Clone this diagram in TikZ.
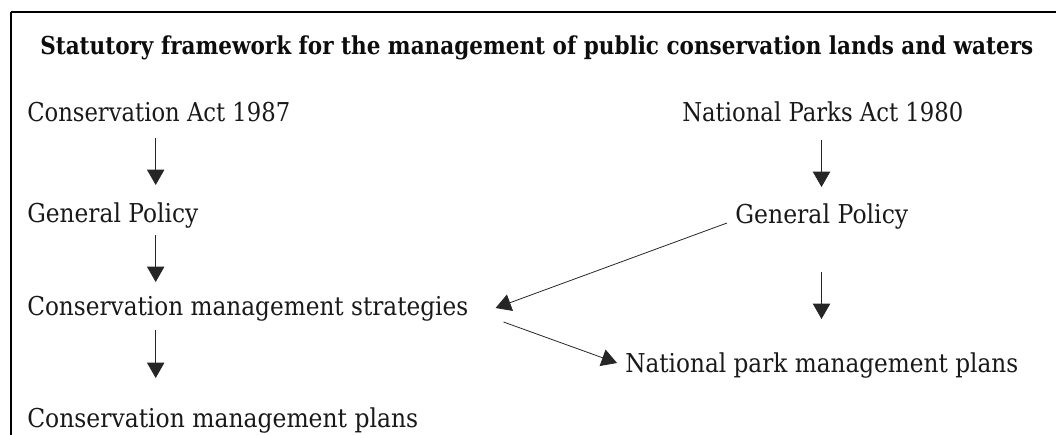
\documentclass[tikz,border=0pt]{standalone}
\usepackage{fontspec}
\setmainfont{DejaVu Serif}
\usetikzlibrary{arrows.meta,calc}
\newlength\pxu
\setlength\pxu{0.75pt}
\newcommand\tw[2]{\resizebox{#1\pxu}{\height}{#2}}
\tikzset{
  lbl/.style={anchor=base west, inner sep=0pt, text=black!90, font=\fontsize{19.5pt}{22pt}\selectfont},
  ttl/.style={anchor=base west, inner sep=0pt, text=black!95, font=\fontsize{18.5pt}{22pt}\selectfont\bfseries},
  arr/.style={draw=black!85, line width=0.6pt, -{Triangle[length=11.5pt,width=13pt]}},
  frame/.style={draw=black, line width=1.6pt}
}
\begin{document}
\begin{tikzpicture}[x=0.75pt,y=-0.75pt]
\useasboundingbox (0,0) rectangle (1056,435);
\clip (0,0) rectangle (1056,435);
\draw[frame] (11,12) -- (1070,12);
\draw[frame] (11,12) -- (11,450);
\node[ttl] (title) at (40,55) {\tw{993}{Statutory framework for the management of public conservation lands and waters}};
\node[lbl] (ca)   at (27,122) {\tw{263}{Conservation Act 1987}};
\node[lbl] (gpl)  at (27,222) {\tw{171}{General Policy}};
\node[lbl] (cms)  at (27,315) {\tw{441}{Conservation management strategies}};
\node[lbl] (cmp)  at (27,427) {\tw{391}{Conservation management plans}};
\node[lbl] (npa)  at (682,122) {\tw{281}{National Parks Act 1980}};
\node[lbl] (gpr)  at (735,223) {\tw{173}{General Policy}};
\node[lbl] (npmp) at (625,372) {\tw{393}{National park management plans}};
\coordinate (lx) at (155.7,0);
\coordinate (rx) at (821.5,0);
% left column
\draw[arr] ($(ca.base -| lx)+(0,16)$) -- ($(gpl.base -| lx)+(0,-37)$);
\draw[arr] ($(gpl.base -| lx)+(0,13)$) -- ($(cms.base -| lx)+(0,-33)$);
\draw[arr] ($(cms.base -| lx)+(0,15)$) -- ($(cmp.base -| lx)+(0,-49)$);
% right column
\draw[arr] ($(npa.base -| rx)+(0,18)$) -- ($(gpr.base -| rx)+(0,-36)$);
\draw[arr] ($(gpr.base -| rx)+(0,49)$) -- ($(npmp.base -| rx)+(0,-53)$);
% diagonals
\draw[arr] ($(gpr.base west)+(-8,0)$) -- ($(cms.base east)+(27,-7)$);
\draw[arr] ($(cms.base east)+(35,7)$) -- ($(npmp.base west)+(-8,-9)$);
\end{tikzpicture}
\end{document}
